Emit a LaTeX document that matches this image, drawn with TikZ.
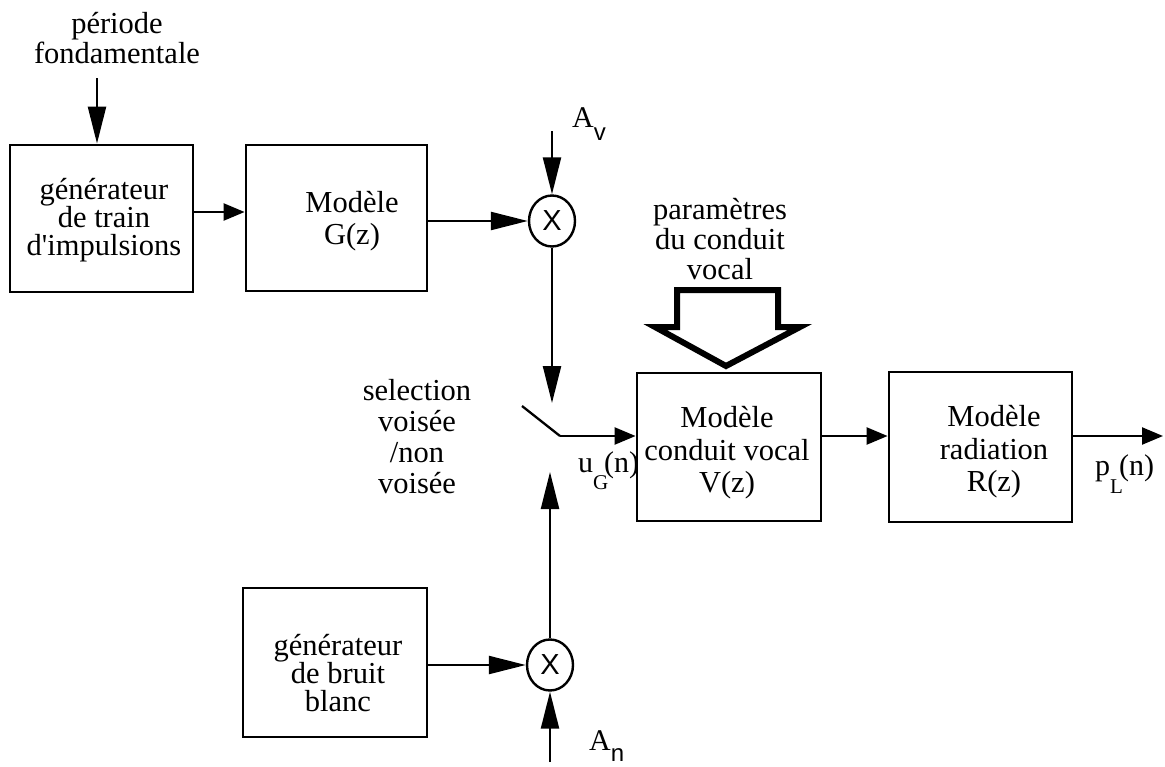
\documentclass[tikz,border=0pt]{standalone}
\usepackage{fontspec}
\setmainfont{Liberation Serif}[Ligatures=TeXOff]
\setsansfont{Liberation Sans}
\usetikzlibrary{arrows.meta,shapes.geometric}
\begin{document}
\begin{tikzpicture}[x=1pt,y=-1pt,
  box/.style={draw,line width=2.8pt,inner sep=0pt},
  txt/.style={align=center,inner sep=0pt},
  mult/.style={draw,ellipse,line width=2.4pt,inner sep=0pt,minimum width=46pt,minimum height=51pt,font=\sffamily\fontsize{29}{29}\selectfont},
  longarrow/.style={line width=2.3pt,-{Triangle[length=37pt,width=18pt]}},
  shortarrow/.style={line width=2.3pt,-{Triangle[length=21pt,width=17pt]}},
  lbl/.style={anchor=base west,inner sep=0pt,font=\fontsize{30}{30}\selectfont}]
\useasboundingbox (0,0) rectangle (1165,766);

% boxes
\node[box,minimum width=183pt,minimum height=147pt] (g1) at (101.5,218.5) {};
\node[box,minimum width=181pt,minimum height=146pt] (m1) at (336.5,218) {};
\node[box,minimum width=184pt,minimum height=148pt] (cv) at (729,447) {};
\node[box,minimum width=183pt,minimum height=150pt] (rad) at (980.5,447) {};
\node[box,minimum width=184pt,minimum height=149pt] (gb) at (335,662.5) {};

% box texts
\node[txt,font=\fontsize{30.5}{28}\selectfont] (g1t) at (104,220) {générateur\\de train\\d'impulsions};
\node[txt,font=\fontsize{30.5}{32}\selectfont] (m1t) at (352,221.5) {Modèle\\G(z)};
\node[txt,font=\fontsize{30.5}{32.5}\selectfont] (cvt) at (727,453) {Modèle\\conduit vocal\\V(z)};
\node[txt,font=\fontsize{30.5}{32.5}\selectfont] (radt) at (994,452) {Modèle\\radiation\\R(z)};
\node[txt,font=\fontsize{30.5}{28}\selectfont] (gbt) at (338,673) {générateur\\de bruit\\blanc};

% free texts
\node[txt,font=\fontsize{30.5}{30}\selectfont] (pf) at (117,38) {période\\fondamentale};
\node[txt,font=\fontsize{30.5}{30}\selectfont] (par) at (720,239) {paramètres\\du conduit\\vocal};
\node[txt,font=\fontsize{30.5}{31}\selectfont] (sel) at (417,437) {selection\\voisée\\/non\\voisée};

% multipliers
\node[mult] (c1) at (552,221) {X};
\node[mult] (c2) at (550,665) {X};

% labels
\node[lbl] (av) at (572,127) {A\raisebox{-13pt}{\sffamily\fontsize{24}{24}\selectfont v}};
\node[lbl] (an) at (589,750) {A\raisebox{-11pt}{\sffamily\fontsize{24}{24}\selectfont n}};
\node[lbl] (ug) at (578,472) {u\rlap{\raisebox{-17pt}{\fontsize{21}{21}\selectfont G}}\kern 11pt(n)};
\node[lbl] (pl) at (1095,475) {p\rlap{\raisebox{-18pt}{\fontsize{21}{21}\selectfont L}}\kern 9pt(n)};

% coordinates
\coordinate (pfs) at (97,78);
\coordinate (avs) at (552,131);
\coordinate (swtop) at (552,403);
\coordinate (swbot) at (550,472);
\coordinate (ans) at (550,762);
\coordinate (swa) at (522,406);
\coordinate (sw) at (560,436);
\coordinate (out) at (1163,436);

% connectors
\draw[longarrow] (pfs) -- (pfs |- g1.north);
\draw[shortarrow] (g1.east |- 0,212) -- (m1.west |- 0,212);
\draw[longarrow] (m1.east |- c1) -- (c1.west);
\draw[longarrow] (avs) -- (c1.north);
\draw[longarrow] (c1.south) -- (swtop);
\draw[line width=2.3pt] (swa) -- (sw);
\draw[shortarrow] (sw) -- (sw -| cv.west);
\draw[longarrow] (c2.north) -- (swbot);
\draw[longarrow] (gb.east |- c2) -- (c2.west);
\draw[longarrow] (ans) -- (c2.south);
\draw[shortarrow] (cv.east |- sw) -- (rad.west |- sw);
\draw[shortarrow] (rad.east |- sw) -- (out);

% big hollow arrow
\draw[line width=6pt,miter limit=10] (677,290) -- (778,290) -- (778,327) -- (800,327) -- (726,366) -- (655,327) -- (677,327) -- cycle;
\end{tikzpicture}
\end{document}
